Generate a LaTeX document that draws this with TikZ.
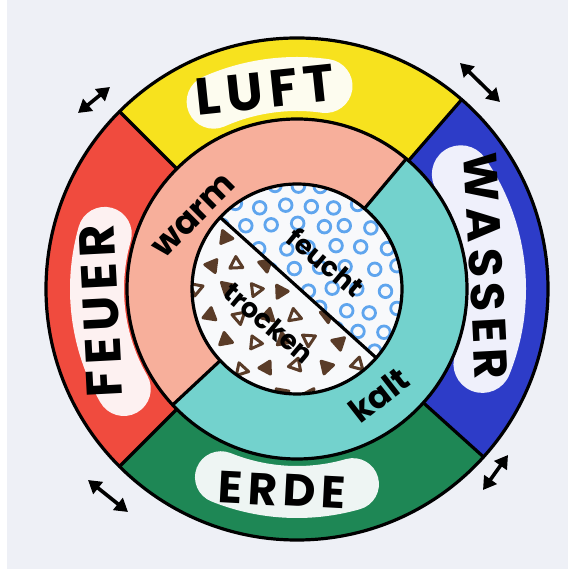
\documentclass[tikz,border=0pt]{standalone}
\usepackage{fontspec}
\setmainfont{Poppins}
\newfontfamily\capfont[LetterSpace=12]{Poppins}
\usetikzlibrary{arrows.meta,calc}
\definecolor{paper}{RGB}{238,240,246}
\definecolor{cyellow}{RGB}{247,226,30}
\definecolor{cred}{RGB}{240,75,62}
\definecolor{cgreen}{RGB}{30,135,85}
\definecolor{cblue}{RGB}{45,60,200}
\definecolor{csalmon}{RGB}{247,175,155}
\definecolor{ccyan}{RGB}{115,210,205}
\definecolor{cdot}{RGB}{95,165,238}
\definecolor{cbrown}{RGB}{90,60,40}
\newcommand\ringsec[5]{\fill[#1] (#2:#4pt) arc[start angle=#2,end angle=#3,radius=#4pt] -- (#3:#5pt) arc[start angle=#3,end angle=#2,radius=#5pt] -- cycle;}
\begin{document}
\begin{tikzpicture}[x=1pt,y=1pt,
  ring/.style={line width=3.2pt,line cap=round},
  lbl/.style={font=\capfont\bfseries,text=black,inner sep=0pt},
  sml/.style={font=\bfseries,text=black,inner sep=0pt},
  dbl/.style={line width=3.6pt,{Triangle[length=13pt,width=15pt]}-{Triangle[length=13pt,width=15pt]}},
  patch/.style={white!96!paper,opacity=0.93,line cap=round}]
\useasboundingbox (0,0) rectangle (568,569);
\fill[paper] (0,0) rectangle (568,569);
\fill[white] (0,0) rectangle (7,569);
\coordinate (C) at (297,280);
\begin{scope}[shift={(297,280)}]
  \ringsec{cyellow}{49}{135}{251}{170}
  \ringsec{cred}{135}{225}{251}{170}
  \ringsec{cgreen}{225}{318}{251}{170}
  \ringsec{cblue}{318}{409}{251}{170}
  \ringsec{csalmon}{50}{223}{170}{105}
  \ringsec{ccyan}{223}{410}{170}{105}
  \fill[white!60!paper] (0,0) circle[radius=105pt];
  % white patches behind the outer labels
  \draw[patch,line width=54pt] (82:205pt) arc[start angle=82,end angle=114,radius=205pt];
  \draw[patch,line width=58pt] (-22:200pt) arc[start angle=-22,end angle=35,radius=200pt];
  \draw[patch,line width=54pt] (164:200pt) arc[start angle=164,end angle=210,radius=200pt];
  \draw[patch,line width=52pt] (248:203pt) arc[start angle=248,end angle=286,radius=203pt];
  % feucht pattern
  \begin{scope}
    \clip (137:105pt) arc[start angle=137,end angle=-41,radius=105pt] -- cycle;
    \pgfmathsetseed{42}
    \foreach \i in {0,...,9}{\foreach \j in {0,...,10}{
      \pgfmathsetmacro\ppx{(\i-5)*25+mod(\j,2)*12.5+rand*3}
      \pgfmathsetmacro\ppy{(\j-5)*21+rand*3}
      \draw[cdot,line width=2.8pt] (\ppx pt,\ppy pt) circle[radius=6.3pt];
    }}
  \end{scope}
  % trocken pattern
  \begin{scope}
    \clip (-41:105pt) arc[start angle=-41,end angle=-223,radius=105pt] -- cycle;
    \pgfmathsetseed{7}
    \foreach \i in {0,...,8}{\foreach \j in {0,...,9}{
      \pgfmathsetmacro\ppx{(\i-4)*29+mod(\j,2)*14.5+rand*3}
      \pgfmathsetmacro\ppy{(\j-5)*26+rand*3}
      \pgfmathsetmacro\trot{rnd*120}
      \pgfmathtruncatemacro\ff{mod(\i+2*\j,2)}
      \ifnum\ff=0
        \draw[cbrown,line width=3pt,line join=round] (\ppx pt,\ppy pt) +(\trot:7.5pt) -- +(\trot+120:7.5pt) -- +(\trot+240:7.5pt) -- cycle;
      \else
        \draw[cbrown,fill=cbrown,line width=3pt,line join=round] (\ppx pt,\ppy pt) +(\trot:7.5pt) -- +(\trot+120:7.5pt) -- +(\trot+240:7.5pt) -- cycle;
      \fi
    }}
  \end{scope}
  % circles and dividers
  \draw[ring] (0,0) circle[radius=251pt];
  \draw[ring] (0,0) circle[radius=170pt];
  \draw[ring] (0,0) circle[radius=105pt];
  \foreach \a in {135,49,-42,225} \draw[ring] (\a:170pt) -- (\a:251pt);
  \foreach \a in {50,223} \draw[ring] (\a:105pt) -- (\a:170pt);
  \draw[ring] (137:105pt) -- (-41:105pt);
\end{scope}
% labels
\node[lbl,rotate=6] (luft) at (265,479) {\fontsize{52}{52}\selectfont LUFT};
\node[lbl,rotate=-87] (wasser) at (486,303) {\fontsize{47}{47}\selectfont WASSER};
\node[lbl,rotate=93] (feuer) at (101,258) {\fontsize{50}{50}\selectfont FEUER};
\node[lbl,rotate=-3] (erde) at (282,79) {\fontsize{45}{45}\selectfont ERDE};
\node[sml,rotate=45] (warm) at (194,353) {\fontsize{34}{34}\selectfont warm};
\node[sml,rotate=-40] (feucht) at (326,307) {\fontsize{27}{27}\selectfont feucht};
\node[sml,rotate=-40] (trocken) at (269,246) {\fontsize{27}{27}\selectfont trocken};
\node[sml,rotate=38] (kalt) at (379,174) {\fontsize{33}{33}\selectfont kalt};
% double arrows
\coordinate (tl1) at (78,456); \coordinate (tl2) at (110,482);
\coordinate (tr1) at (460,506); \coordinate (tr2) at (500,467);
\coordinate (bl1) at (88,89); \coordinate (bl2) at (128,57);
\coordinate (br1) at (508,114); \coordinate (br2) at (483,79);
\draw[dbl] (tl1) -- (tl2);
\draw[dbl] (tr1) -- (tr2);
\draw[dbl] (bl1) -- (bl2);
\draw[dbl] (br1) -- (br2);
\end{tikzpicture}
\end{document}
